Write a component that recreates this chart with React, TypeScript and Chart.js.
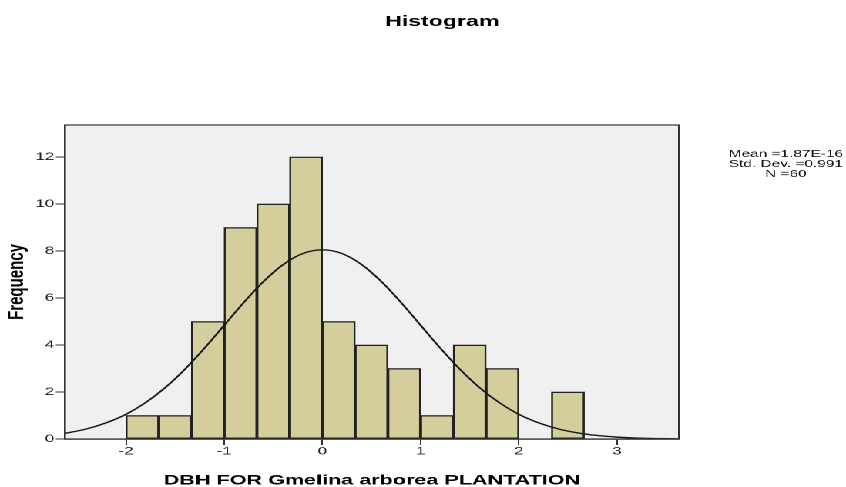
import React, { useEffect, useRef } from "react";
import { Chart, registerables } from "chart.js";

Chart.register(...registerables);

// Histogram bins (centres of 1/3-wide bins) and frequencies
const binCenters = [-1.8333, -1.5, -1.1667, -0.8333, -0.5, -0.1667, 0.1667, 0.5, 0.8333, 1.1667, 1.5, 1.8333, 2.5];
const frequencies = [1, 1, 5, 9, 10, 12, 5, 4, 3, 1, 4, 3, 2];

// Normal curve
const curveX = [-2.8, -2.6, -2.4, -2.2, -2.0, -1.8, -1.6, -1.4, -1.2, -1.0, -0.8, -0.6, -0.4, -0.2, 0, 0.2, 0.4, 0.6, 0.8, 1.0, 1.2, 1.4, 1.6, 1.8, 2.0, 2.2, 2.4, 2.6, 2.8, 3.0, 3.2, 3.4, 3.6, 3.8];
const curveY = [0.15, 0.26, 0.43, 0.69, 1.05, 1.55, 2.19, 2.97, 3.87, 4.84, 5.81, 6.70, 7.42, 7.89, 8.05, 7.89, 7.42, 6.70, 5.81, 4.84, 3.87, 2.97, 2.19, 1.55, 1.05, 0.69, 0.43, 0.26, 0.15, 0.08, 0.04, 0.02, 0.01, 0.0];

const xTicks = [-2, -1, 0, 1, 2, 3];
const yTicks = [0, 2, 4, 6, 8, 10, 12];

const titleText = "Histogram";
const xTitle = "DBH FOR Gmelina arborea PLANTATION";
const yTitle = "Frequency";
const statsLines = ["Mean =1.87E-16", "Std. Dev. =0.991", "N =60"];

const W = 549;
const H = 487;
const SX = 846 / W;
const FONT = "Arial, 'Liberation Sans', sans-serif";

export default function App() {
  const ref = useRef<HTMLCanvasElement | null>(null);

  useEffect(() => {
    if (!ref.current) return;
    const framePlugin = {
      id: "frame",
      beforeDatasetsDraw(chart: any) {
        const { ctx, chartArea } = chart;
        ctx.save();
        ctx.fillStyle = "#f0f0f0";
        ctx.fillRect(chartArea.left, chartArea.top, chartArea.right - chartArea.left, chartArea.bottom - chartArea.top);
        ctx.restore();
      },
      afterDraw(chart: any) {
        const { ctx, chartArea } = chart;
        ctx.save();
        ctx.strokeStyle = "#333";
        ctx.lineWidth = 1.2;
        ctx.strokeRect(chartArea.left, chartArea.top, chartArea.right - chartArea.left, chartArea.bottom - chartArea.top);
        ctx.fillStyle = "#000";
        ctx.textAlign = "center";
        ctx.textBaseline = "alphabetic";
        ctx.font = `bold 15px ${FONT}`;
        ctx.fillText(titleText, 287, 26);
        ctx.fillStyle = "#111";
        ctx.font = `10px ${FONT}`;
        statsLines.forEach((s, i) => ctx.fillText(s, 510, 157 + i * 10));
        ctx.restore();
      },
    };

    const chart = new Chart(ref.current, {
      type: "bar",
      data: {
        datasets: [
          {
            type: "line",
            data: curveX.map((x, i) => ({ x, y: curveY[i] })),
            borderColor: "#1a1a1a",
            borderWidth: 1.4,
            pointRadius: 0,
            cubicInterpolationMode: "monotone",
            fill: false,
            order: 0,
          } as any,
          {
            type: "bar",
            data: binCenters.map((x, i) => ({ x, y: frequencies[i] })),
            backgroundColor: "rgb(211,206,155)",
            borderColor: "#222",
            borderWidth: 1.3,
            borderSkipped: false,
            barPercentage: 1,
            categoryPercentage: 1,
            order: 1,
          } as any,
        ],
      },
      options: {
        animation: false,
        responsive: false,
        devicePixelRatio: 2,
        layout: { padding: { top: 125, right: 108.4, left: 0, bottom: 0 } },
        plugins: { legend: { display: false }, tooltip: { enabled: false }, title: { display: false } },
        scales: {
          x: {
            type: "linear",
            min: -2.621,
            max: 3.631,
            offset: false,
            afterBuildTicks: (s: any) => {
              s.ticks = xTicks.map((v) => ({ value: v }));
            },
            afterFit: (s: any) => {
              s.height = 48;
            },
            grid: { display: true, drawOnChartArea: false, drawTicks: true, tickLength: 6, color: "#333", offset: false },
            border: { display: true, color: "#333", width: 1.2 },
            ticks: { color: "#222", font: { family: FONT, size: 11 }, padding: 0, maxRotation: 0 },
            title: { display: true, text: xTitle, color: "#000", font: { family: FONT, size: 14, weight: "bold" }, padding: { top: 0, bottom: -2 } },
          },
          y: {
            type: "linear",
            min: 0,
            max: 13.36,
            afterBuildTicks: (s: any) => {
              s.ticks = yTicks.map((v) => ({ value: v }));
            },
            afterFit: (s: any) => {
              s.width = 42.2;
            },
            grid: { display: true, drawOnChartArea: false, drawTicks: true, tickLength: 6, color: "#333" },
            border: { display: true, color: "#333", width: 1.2 },
            ticks: { color: "#222", font: { family: FONT, size: 11 }, padding: 1 },
            title: { display: true, text: yTitle, color: "#000", font: { family: FONT, size: 15, weight: "bold" }, padding: { top: 2, bottom: 0 } },
          },
        },
      },
      plugins: [framePlugin],
    } as any);
    return () => chart.destroy();
  }, []);

  return (
    <div
      style={{
        position: "fixed",
        left: 0,
        top: 0,
        width: W,
        height: H,
        transform: `scaleX(${SX})`,
        transformOrigin: "0 0",
        background: "#fff",
      }}
    >
      <canvas ref={ref} width={W} height={H} style={{ display: "block" }} />
    </div>
  );
}
